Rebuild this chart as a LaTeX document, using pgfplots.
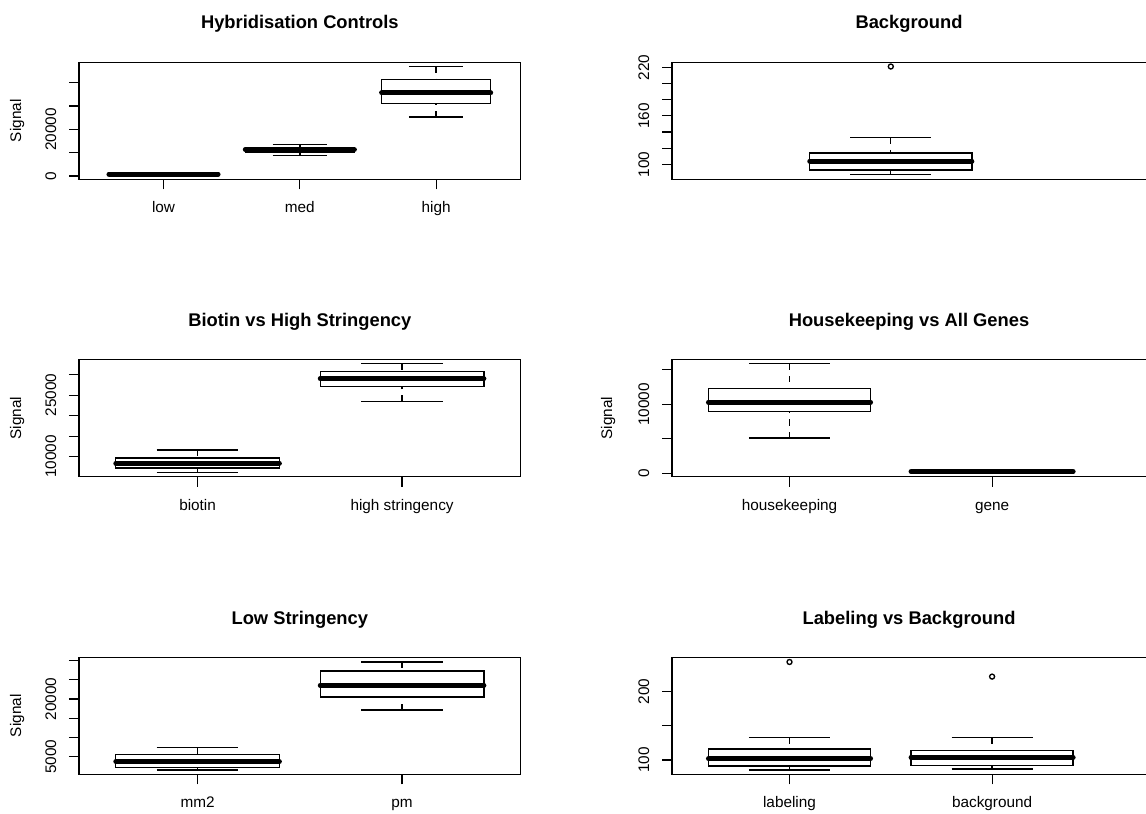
\documentclass[border=0pt]{standalone}
\usepackage{fontspec}
\setmainfont{Liberation Sans}
\usepackage{pgfplots}
\pgfplotsset{compat=1.18}

\pgfplotsset{
  rpanel/.style={
    scale only axis, height=70.2pt,
    axis line style={line width=0.7pt},
    every tick/.style={black, line width=0.7pt},
    tick align=outside, major tick length=6pt,
    xtick pos=bottom, ytick pos=left,
    scaled y ticks=false,
    tick label style={font=\fontsize{9.2}{11}\selectfont},
    label style={font=\fontsize{9.2}{11}\selectfont},
    yticklabel style={rotate=90, anchor=south, inner sep=0pt},
    yticklabel shift=7.4pt,
    xticklabel style={anchor=base, inner sep=0pt},
    xticklabel shift=14.1pt,
    /pgf/number format/assume math mode=true,
    title style={at={(axis description cs:0.5,1)}, anchor=base, yshift=14.0pt, font=\bfseries\fontsize{11}{13}\selectfont},
    ylabel style={anchor=base, inner sep=0pt},
  },
}
% #1 position, #2 lower whisker, #3 lower quartile, #4 median, #5 upper quartile, #6 upper whisker
\newcommand\rbox[6]{%
  \pgfmathsetmacro\rbxl{#1-0.4}\pgfmathsetmacro\rbxr{#1+0.4}%
  \pgfmathsetmacro\rbcl{#1-0.2}\pgfmathsetmacro\rbcr{#1+0.2}%
  \addplot[black, line width=0.8pt, dash pattern=on 3.8pt off 3.6pt] coordinates {(#1,#6) (#1,#5)};
  \addplot[black, line width=0.8pt, dash pattern=on 3.8pt off 3.6pt] coordinates {(#1,#2) (#1,#3)};
  \addplot[black, line width=0.8pt] coordinates {(\rbcl,#6) (\rbcr,#6)};
  \addplot[black, line width=0.8pt] coordinates {(\rbcl,#2) (\rbcr,#2)};
  \addplot[black, line width=0.8pt, fill=white] coordinates {(\rbxl,#3) (\rbxr,#3) (\rbxr,#5) (\rbxl,#5)} -- cycle;
  \addplot[black, line width=3pt, line cap=round] coordinates {(\rbxl,#4) (\rbxr,#4)};
}
\newcommand\rout[2]{%
  \addplot[black, only marks, mark=o, mark size=1.5pt, mark options={solid, line width=0.8pt}] coordinates {(#1,#2)};
}

\begin{document}
\begin{tikzpicture}
\useasboundingbox (0,0) rectangle (687.6pt,487.8pt);

% Panel 1
\begin{axis}[rpanel, at={(47.4pt,380.2pt)}, anchor=south west, width=265pt,
  xmin=0.38, xmax=3.62, ymin=-1430, ymax=48710,
  xtick={1,2,3}, xticklabels={low,med,high},
  ytick={0,10000,20000,30000,40000}, yticklabels={0,,20000,,},
  ylabel={Signal}, ylabel style={at={(axis description cs:-0.1313,0.5)}},
  title={Hybridisation Controls}]
\rbox{1}{300}{600}{800}{1000}{1300}
\rbox{2}{8710}{10290}{11290}{12290}{13570}
\rbox{3}{25290}{31000}{35570}{41290}{47000}
\end{axis}

% Panel 2
\begin{axis}[rpanel, at={(403.2pt,380.2pt)}, anchor=south west, width=289.3pt,
  xmin=0.42, xmax=2.80, ymin=81.4, ymax=226.2,
  xtick=\empty,
  ytick={100,120,140,160,180,200,220}, yticklabels={100,,,160,,,220},
  title={Background}, title style={at={(axis description cs:0.4916,1)}}]
\rbox{1.5}{87}{93}{104}{114}{133}
\rout{1.5}{221}
\end{axis}

% Panel 3
\begin{axis}[rpanel, at={(47.4pt,201.8pt)}, anchor=south west, width=265pt,
  xmin=0.42, xmax=2.58, ymin=5100, ymax=33670,
  xtick={1,2}, xticklabels={biotin,high stringency},
  ytick={10000,15000,20000,25000,30000}, yticklabels={10000,,,25000,},
  ylabel={Signal}, ylabel style={at={(axis description cs:-0.1313,0.5)}},
  title={Biotin vs High Stringency}]
\rbox{1}{6160}{7220}{8370}{9670}{11630}
\rbox{2}{23390}{27140}{29020}{30820}{32690}
\end{axis}

% Panel 4
\begin{axis}[rpanel, at={(403.2pt,201.8pt)}, anchor=south west, width=289.3pt,
  xmin=0.42, xmax=2.80, ymin=-484, ymax=16460,
  xtick={1,2}, xticklabels={housekeeping,gene},
  ytick={0,5000,10000,15000}, yticklabels={0,,10000,},
  ylabel={Signal}, ylabel style={at={(axis description cs:-0.1244,0.5)}},
  title={Housekeeping vs All Genes}, title style={at={(axis description cs:0.4916,1)}}]
\rbox{1}{5130}{9000}{10310}{12250}{15870}
\rbox{2}{100}{180}{240}{300}{400}
\end{axis}

% Panel 5
\begin{axis}[rpanel, at={(47.4pt,23.2pt)}, anchor=south west, width=265pt,
  xmin=0.42, xmax=2.58, ymin=400, ymax=30870,
  xtick={1,2}, xticklabels={mm2,pm},
  ytick={5000,10000,15000,20000,25000,30000}, yticklabels={5000,,,20000,,},
  ylabel={Signal}, ylabel style={at={(axis description cs:-0.1313,0.5)}},
  title={Low Stringency}]
\rbox{1}{1530}{2220}{3700}{5610}{7340}
\rbox{2}{17150}{20540}{23580}{27310}{29650}
\end{axis}

% Panel 6
\begin{axis}[rpanel, at={(403.2pt,23.2pt)}, anchor=south west, width=289.3pt,
  xmin=0.42, xmax=2.80, ymin=79, ymax=250.2,
  xtick={1,2}, xticklabels={labeling,background},
  ytick={100,150,200}, yticklabels={100,,200},
  title={Labeling vs Background}, title style={at={(axis description cs:0.4916,1)}}]
\rbox{1}{85.4}{91.2}{102}{116.1}{132.7}
\rbox{2}{86.8}{92.2}{103.9}{114.1}{132.7}
\rout{1}{243.4}
\rout{2}{222}
\end{axis}
\end{tikzpicture}
\end{document}
